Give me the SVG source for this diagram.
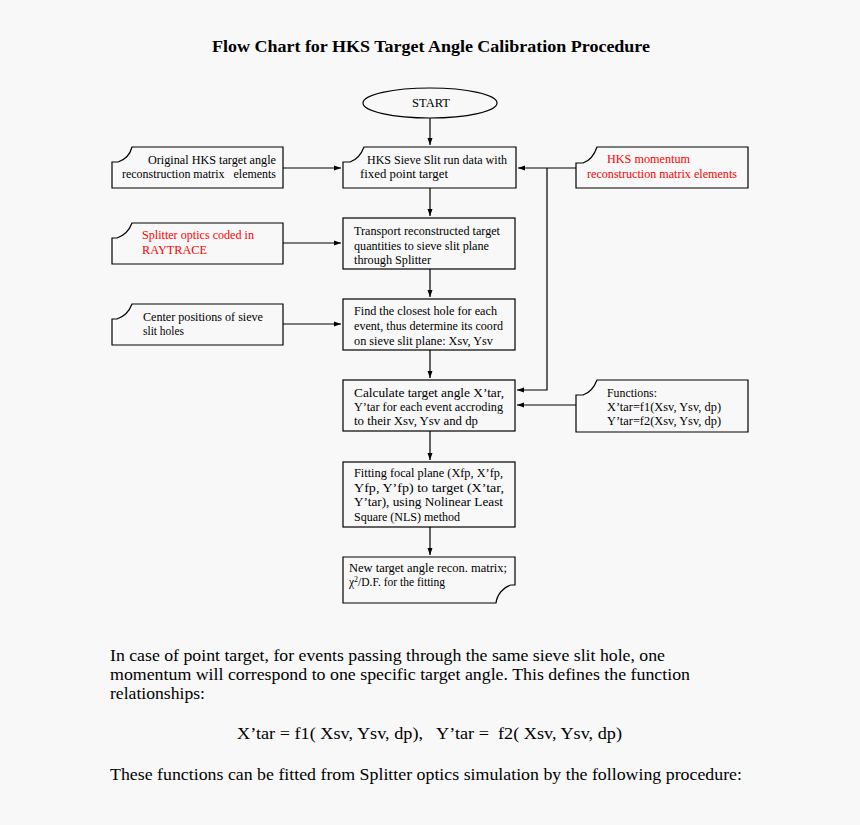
<svg xmlns="http://www.w3.org/2000/svg" width="860" height="825" viewBox="0 0 860 825">
<defs>
<marker id="ah" markerWidth="8" markerHeight="6" refX="7" refY="3" orient="auto" markerUnits="userSpaceOnUse">
<path d="M0,0.5 L7,3 L0,5.5 z" fill="#000"/>
</marker>
<style>
.bx{fill:none;stroke:#000;stroke-width:1.2}
.t{font-family:"Liberation Serif","DejaVu Serif",serif;font-size:11.5px;fill:#000}
.r{fill:#ff0000}
.c line,.c polyline{stroke:#000;stroke-width:1.2;fill:none;marker-end:url(#ah)}
.p{font-family:"Liberation Serif","Times New Roman",serif;font-size:17px;fill:#000}
</style>
</defs>
<rect width="860" height="825" fill="#f8f8f8"/>
<text x="431" y="52" text-anchor="middle" font-family="Liberation Serif,serif" font-weight="bold" font-size="16" textLength="438" lengthAdjust="spacingAndGlyphs">Flow Chart for HKS Target Angle Calibration Procedure</text>

<g id="start">
<ellipse cx="430" cy="103" rx="67" ry="15" class="bx"/>
<text x="431" y="107" class="t" text-anchor="middle" textLength="38" lengthAdjust="spacingAndGlyphs">START</text>
</g>

<g id="orig">
<path class="bx" d="M112,162 L118,162 C124,160 130,155 132,147 L283,147 L283,188 L112,188 Z"/>
<text x="148" y="164" class="t" textLength="128" lengthAdjust="spacingAndGlyphs">Original HKS target angle</text>
<text x="122" y="178" class="t" textLength="154" lengthAdjust="spacingAndGlyphs" xml:space="preserve">reconstruction matrix   elements</text>
</g>

<g id="sieve">
<path class="bx" d="M343,162 L350,162 C356,160 361,155 364,147 L516,147 L516,188 L343,188 Z"/>
<text x="367" y="164" class="t" textLength="140" lengthAdjust="spacingAndGlyphs">HKS Sieve Slit run data with</text>
<text x="360" y="178" class="t" textLength="88" lengthAdjust="spacingAndGlyphs">fixed point target</text>
</g>

<g id="momentum">
<path class="bx" d="M576,163 L583,163 C589,161 594,156 597,147 L748,147 L748,188 L576,188 Z"/>
<text x="607" y="163" class="t r" textLength="83" lengthAdjust="spacingAndGlyphs">HKS momentum</text>
<text x="587" y="178" class="t r" textLength="150" lengthAdjust="spacingAndGlyphs">reconstruction matrix elements</text>
</g>

<g id="splitter">
<path class="bx" d="M112,238 L117,238 C123,236 129,231 132,223 L283,223 L283,264 L112,264 Z"/>
<text x="142" y="239" class="t r" textLength="112" lengthAdjust="spacingAndGlyphs">Splitter optics coded in</text>
<text x="142" y="254" class="t r" textLength="65" lengthAdjust="spacingAndGlyphs">RAYTRACE</text>
</g>

<g id="transport">
<rect class="bx" x="343" y="218" width="172" height="51"/>
<text x="354" y="235" class="t" textLength="146" lengthAdjust="spacingAndGlyphs">Transport reconstructed target</text>
<text x="354" y="249.5" class="t" textLength="135" lengthAdjust="spacingAndGlyphs">quantities to sieve slit plane</text>
<text x="354" y="264" class="t" textLength="77" lengthAdjust="spacingAndGlyphs">through Splitter</text>
</g>

<g id="center">
<path class="bx" d="M112,319 L117,319 C123,317 129,312 132,304 L283,304 L283,345 L112,345 Z"/>
<text x="143" y="321" class="t" textLength="120" lengthAdjust="spacingAndGlyphs">Center positions of sieve</text>
<text x="143" y="335" class="t" textLength="41" lengthAdjust="spacingAndGlyphs">slit holes</text>
</g>

<g id="find">
<rect class="bx" x="343" y="299" width="172" height="51"/>
<text x="354" y="315" class="t" textLength="143" lengthAdjust="spacingAndGlyphs">Find the closest hole for each</text>
<text x="354" y="330" class="t" textLength="149" lengthAdjust="spacingAndGlyphs">event, thus determine its coord</text>
<text x="354" y="345" class="t" textLength="139" lengthAdjust="spacingAndGlyphs">on sieve slit plane: Xsv, Ysv</text>
</g>

<g id="calculate">
<rect class="bx" x="343" y="380" width="172" height="51"/>
<text x="354" y="397" class="t" textLength="150" lengthAdjust="spacingAndGlyphs">Calculate target angle X’tar,</text>
<text x="354" y="411" class="t" textLength="149" lengthAdjust="spacingAndGlyphs">Y’tar for each event accroding</text>
<text x="354" y="425" class="t" textLength="124" lengthAdjust="spacingAndGlyphs">to their Xsv, Ysv and dp</text>
</g>

<g id="functions">
<path class="bx" d="M576,395 L583,395 C589,393 594,388 597,380 L748,380 L748,432 L576,432 Z"/>
<text x="607" y="397" class="t" textLength="50" lengthAdjust="spacingAndGlyphs">Functions:</text>
<text x="607" y="411" class="t" textLength="114" lengthAdjust="spacingAndGlyphs">X’tar=f1(Xsv, Ysv, dp)</text>
<text x="607" y="425" class="t" textLength="114" lengthAdjust="spacingAndGlyphs">Y’tar=f2(Xsv, Ysv, dp)</text>
</g>

<g id="fitting">
<rect class="bx" x="343" y="462" width="172" height="65"/>
<text x="354" y="477" class="t" textLength="149" lengthAdjust="spacingAndGlyphs">Fitting focal plane (Xfp, X’fp,</text>
<text x="354" y="491.5" class="t" textLength="150" lengthAdjust="spacingAndGlyphs">Yfp, Y’fp) to target (X’tar,</text>
<text x="354" y="506" class="t" textLength="149" lengthAdjust="spacingAndGlyphs">Y’tar), using Nolinear Least</text>
<text x="354" y="520.5" class="t" textLength="106" lengthAdjust="spacingAndGlyphs">Square (NLS) method</text>
</g>

<g id="newmatrix">
<path class="bx" d="M343,557 L515,557 L515,585 L511,585 C503,587 497,595 496,603 L343,603 Z"/>
<text x="349" y="572" class="t" textLength="158" lengthAdjust="spacingAndGlyphs">New target angle recon. matrix;</text>
<text x="349" y="586" class="t">χ<tspan font-size="8" dy="-4">2</tspan><tspan dy="4">/D.F. for the fitting</tspan></text>
</g>

<g id="connectors" class="c">
<line x1="430" y1="118" x2="430" y2="145"/>
<line x1="283" y1="168" x2="341" y2="168"/>
<line x1="576" y1="168" x2="518" y2="168"/>
<polyline points="547,168 547,390 517,390"/>
<line x1="430" y1="188" x2="430" y2="216"/>
<line x1="283" y1="243" x2="341" y2="243"/>
<line x1="430" y1="269" x2="430" y2="297"/>
<line x1="283" y1="324" x2="341" y2="324"/>
<line x1="430" y1="350" x2="430" y2="378"/>
<line x1="576" y1="405" x2="517" y2="405"/>
<line x1="430" y1="431" x2="430" y2="460"/>
<line x1="430" y1="527" x2="430" y2="555"/>
</g>

<text x="110" y="661" class="p" textLength="555" lengthAdjust="spacingAndGlyphs">In case of point target, for events passing through the same sieve slit hole, one</text>
<text x="110" y="680" class="p" textLength="580" lengthAdjust="spacingAndGlyphs">momentum will correspond to one specific target angle. This defines the function</text>
<text x="110" y="699" class="p" textLength="95" lengthAdjust="spacingAndGlyphs">relationships:</text>
<text x="237" y="739" class="p" textLength="385" lengthAdjust="spacingAndGlyphs" xml:space="preserve">X’tar = f1( Xsv, Ysv, dp),   Y’tar =  f2( Xsv, Ysv, dp)</text>
<text x="110" y="780" class="p" textLength="632" lengthAdjust="spacingAndGlyphs">These functions can be fitted from Splitter optics simulation by the following procedure:</text>
</svg>
